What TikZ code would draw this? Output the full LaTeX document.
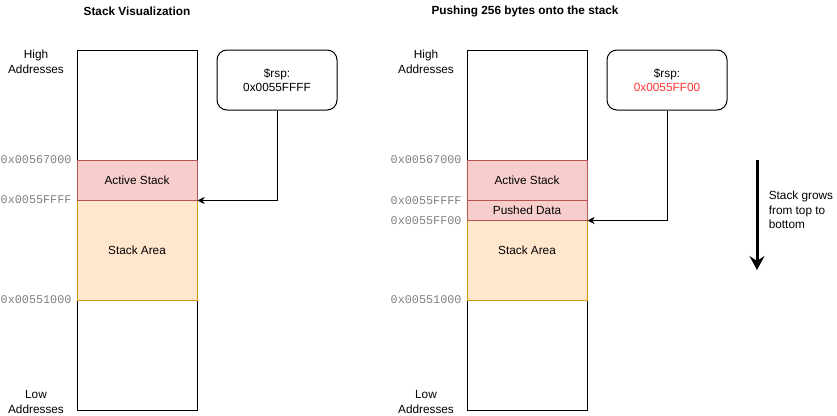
\documentclass[tikz,border=0pt]{standalone}
\usepackage{fontspec}
\setmainfont{Liberation Sans}
\setmonofont{Liberation Mono}
\usetikzlibrary{arrows.meta}

\definecolor{activefill}{HTML}{F8CECC}
\definecolor{activeline}{HTML}{B85450}
\definecolor{areafill}{HTML}{FFE6CC}
\definecolor{arealine}{HTML}{D79B00}
\definecolor{addrgray}{HTML}{808080}
\definecolor{rspred}{HTML}{FF3333}

\begin{document}
\begin{tikzpicture}[x=1pt, y=-1pt, line width=1pt,
  font=\fontsize{11.8}{14.5}\selectfont,
  stackbox/.style={draw=black, minimum width=120, minimum height=360, inner sep=0},
  activebox/.style={draw=activeline, fill=activefill, minimum width=120, inner sep=0},
  areabox/.style={draw=arealine, fill=areafill, minimum width=120, inner sep=0},
  rspbox/.style={draw=black, rounded corners=10, minimum width=120, minimum height=60, align=center},
  addr/.style={anchor=east, inner sep=0, text=addrgray, font=\fontsize{11.8}{14}\ttfamily},
  ptr/.style={-{Stealth[length=7, width=7, inset=2]}},
  title/.style={font=\fontsize{11.8}{14}\selectfont\bfseries}]

\useasboundingbox (0,0) rectangle (837,415);

% draw titles
\node[title] (title1) at (137,11) {Stack Visualization};
\node[title] (title2) at (525,11) {Pushing 256 bytes onto the stack};

% draw left stack
\node[stackbox] (stack1) at (137,230) {};
\node[areabox, minimum height=100] (area1) at (137,250) {\raisebox{-1pt}{Stack Area}};
\node[activebox, minimum height=40] (act1) at (137,180) {\raisebox{-1pt}{Active Stack}};

\node[align=center] (high1) at (36,62) {High\\Addresses};
\node[align=center] (low1) at (36,402) {Low\\Addresses};

\node[addr] (a1top) at (72,160) {0x00567000};
\node[addr] (a1rsp) at (72,200) {0x0055FFFF};
\node[addr] (a1bot) at (72,300) {0x00551000};

\node[rspbox] (rsp1) at (277,80) {\$rsp:\\0x0055FFFF};
\draw[ptr] (rsp1.south) |- (act1.south east);

% draw right stack
\node[stackbox] (stack2) at (527,230) {};
\node[areabox, minimum height=100] (area2) at (527,250) {\raisebox{-1pt}{Stack Area}};
\node[activebox, minimum height=40] (act2) at (527,180) {\raisebox{-1pt}{Active Stack}};
\node[activebox, minimum height=20] (push2) at (527,210) {\raisebox{-1pt}{Pushed Data}};

\node[align=center] (high2) at (426,62) {High\\Addresses};
\node[align=center] (low2) at (426,402) {Low\\Addresses};

\node[addr] (a2top) at (462,160) {0x00567000};
\node[addr] (a2old) at (462,201) {0x0055FFFF};
\node[addr] (a2rsp) at (462,221) {0x0055FF00};
\node[addr] (a2bot) at (462,300) {0x00551000};

\node[rspbox] (rsp2) at (667,80) {\$rsp:\\\textcolor{rspred}{0x0055FF00}};
\draw[ptr] (rsp2.south) |- (push2.south east);

% draw growth direction
\coordinate (growtop) at (757,160);
\coordinate (growbot) at (757,270);
\draw[line width=3, -{Stealth[length=14, width=15, inset=5]}] (growtop) -- (growbot);
\node[anchor=west, align=left] (grow) at (765,210) {Stack grows\\from top to\\bottom};

\end{tikzpicture}
\end{document}
